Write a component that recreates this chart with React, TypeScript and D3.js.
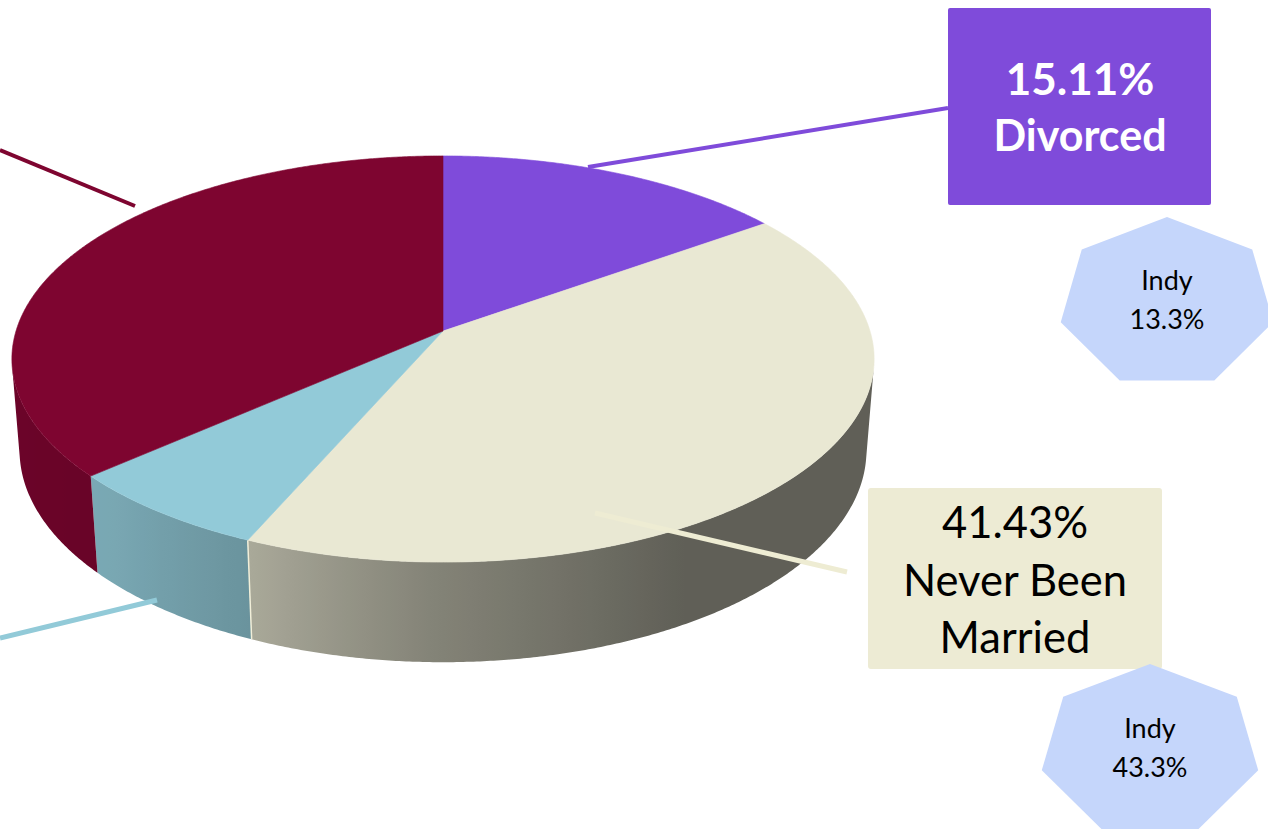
import React from "react";
import * as d3 from "d3";

// ---------- data ----------
const categories = ["Divorced", "Never Been Married", "Widowed", "Married"];
const shares = [15.11, 41.43, 6.95, 36.51];
const sliceColors = ["#7F4BDA", "#E9E8D3", "#92CAD8", "#7E0530"];
const labelLines = [["15.11%", "Divorced"], ["41.43%", "Never Been", "Married"]];
const indyNames = ["Indy", "Indy"];
const indyValues = [13.3, 43.3];

// ---------- geometry ----------
const W = 1268, H = 829;
const CX = 443, CY = 331, F = 2737, DIST = 6.41;
const S = 0.4666, C = Math.sqrt(1 - S * S);
const THICK = 0.244;
const deg = Math.PI / 180;

function proj(x: number, h: number, z: number): [number, number] {
  const depth = DIST - S * h - C * z;
  return [CX + (F * x) / depth, CY + (F * (S * z - C * h)) / depth];
}
function rim(theta: number, h: number): [number, number] {
  return proj(Math.sin(theta), h, -Math.cos(theta));
}

// side wall faces the camera where z > 1/(DIST*C)
const visZ = 1 / (DIST * C);
const visHalf = Math.acos(visZ);
const visA0 = Math.PI - visHalf;
const visA1 = Math.PI + visHalf;

const shade = d3
  .scaleLinear<number>()
  .domain([90, 150, 182, 204, 225, 270].map((d) => d * deg))
  .range([0.41, 0.41, 0.57, 0.73, 0.83, 0.86])
  .clamp(true);

function shaded(base: string, k: number) {
  const c = d3.rgb(base);
  return d3.rgb(c.r * k, c.g * k, c.b * k).formatHex();
}

const line = d3.line<[number, number]>();

function arcSamples(a0: number, a1: number, step: number) {
  const n = Math.max(1, Math.ceil((a1 - a0) / step));
  return d3.range(n + 1).map((i) => a0 + ((a1 - a0) * i) / n);
}

export default function App() {
  const pie = d3.pie<number>().sort(null).value((d) => d)(shares);

  const sides = pie
    .map((p, i) => {
      const a0 = Math.max(p.startAngle, visA0);
      const a1 = Math.min(p.endAngle, visA1);
      if (a1 <= a0) return null;
      const ts = arcSamples(a0, a1, 0.4 * deg);
      const top = ts.map((t) => rim(t, 0));
      const bot = ts.map((t) => rim(t, -THICK)).reverse();
      const pts = [...top, ...bot];
      const xs = pts.map((q) => q[0]);
      const x0 = d3.min(xs)!, x1 = d3.max(xs)!;
      const stops = ts
        .filter((_, j) => j % 4 === 0 || j === ts.length - 1)
        .map((t) => {
          const px = (rim(t, 0)[0] + rim(t, -THICK)[0]) / 2;
          return {
            off: Math.min(1, Math.max(0, (px - x0) / (x1 - x0))),
            color: shaded(sliceColors[i], shade(t)),
          };
        })
        .sort((a, b) => a.off - b.off);
      return { i, d: line(pts as [number, number][]) + "Z", x0, x1, stops };
    })
    .filter(Boolean) as any[];

  const tops = pie.map((p, i) => {
    const ts = arcSamples(p.startAngle, p.endAngle, 0.4 * deg);
    const pts: [number, number][] = [proj(0, 0, 0), ...ts.map((t) => rim(t, 0))];
    return { i, d: line(pts) + "Z" };
  });

  // edge highlight between widowed and never-been-married side faces
  const edgeAngle = pie[1].endAngle;
  const eTop = rim(edgeAngle, 0), eBot = rim(edgeAngle, -THICK);

  const heptagon = (cx: number, cy: number, rx: number, ry: number) =>
    line(
      d3.range(7).map((k) => {
        const a = -Math.PI / 2 + (k * 2 * Math.PI) / 7;
        return [cx + rx * Math.cos(a), cy + ry * Math.sin(a)] as [number, number];
      })
    ) + "Z";

  const font = "Lato, 'Open Sans', sans-serif";

  return (
    <svg
      width={W}
      height={H}
      viewBox={`0 0 ${W} ${H}`}
      style={{ position: "absolute", left: 0, top: 0, display: "block", background: "#fff" }}
    >
      <defs>
        {sides.map((s) => (
          <linearGradient key={s.i} id={`side${s.i}`} gradientUnits="userSpaceOnUse" x1={s.x0} x2={s.x1} y1={0} y2={0}>
            {s.stops.map((st: any, j: number) => (
              <stop key={j} offset={st.off} stopColor={st.color} />
            ))}
          </linearGradient>
        ))}
      </defs>

      {/* side walls */}
      {sides.map((s) => (
        <path key={s.i} d={s.d} fill={`url(#side${s.i})`} />
      ))}
      <line x1={eTop[0]} y1={eTop[1]} x2={eBot[0]} y2={eBot[1]} stroke="#F1EFD9" strokeWidth={1.5} />

      {/* top faces */}
      {tops.map((t) => (
        <path key={t.i} d={t.d} fill={sliceColors[t.i]} stroke={sliceColors[t.i]} strokeWidth={0.6}>
          <title>{categories[t.i]}</title>
        </path>
      ))}

      {/* leader lines */}
      <line x1={0} y1={150} x2={135} y2={206} stroke={sliceColors[3]} strokeWidth={4} />
      <line x1={588} y1={167} x2={948} y2={108} stroke={sliceColors[0]} strokeWidth={4} />
      <line x1={0} y1={638} x2={157} y2={600} stroke={sliceColors[2]} strokeWidth={5} />
      <line x1={595} y1={513} x2={847} y2={572} stroke="#EEECD3" strokeWidth={5} />

      {/* Divorced label */}
      <rect x={948} y={8} width={263} height={197} rx={2} fill={sliceColors[0]} />
      <text x={1080} y={95} textAnchor="middle" fill="#fff" fontFamily={font} fontWeight={700} fontSize={44}>
        {labelLines[0][0]}
      </text>
      <text x={1080} y={151} textAnchor="middle" fill="#fff" fontFamily={font} fontWeight={700} fontSize={43}>
        {labelLines[0][1]}
      </text>

      {/* Never Been Married label */}
      <rect x={868} y={488} width={294} height={181} rx={3} fill="#EDEBD4" />
      {labelLines[1].map((t, j) => (
        <text key={j} x={1015} y={538 + j * 57.5} textAnchor="middle" fill="#000" fontFamily={font} fontSize={43.5}>
          {t}
        </text>
      ))}

      {/* Indy heptagons */}
      <path d={heptagon(1167, 303, 109, 86)} fill="#C5D6FB" />
      <text x={1167} y={290} textAnchor="middle" fill="#000" fontFamily={font} fontSize={27}>
        {indyNames[0]}
      </text>
      <text x={1167} y={329} textAnchor="middle" fill="#000" fontFamily={font} fontSize={27}>
        {indyValues[0].toFixed(1)}%
      </text>

      <path d={heptagon(1150, 751, 111, 87)} fill="#C5D6FB" />
      <text x={1150} y={738} textAnchor="middle" fill="#000" fontFamily={font} fontSize={27}>
        {indyNames[1]}
      </text>
      <text x={1150} y={777} textAnchor="middle" fill="#000" fontFamily={font} fontSize={27}>
        {indyValues[1].toFixed(1)}%
      </text>
    </svg>
  );
}
